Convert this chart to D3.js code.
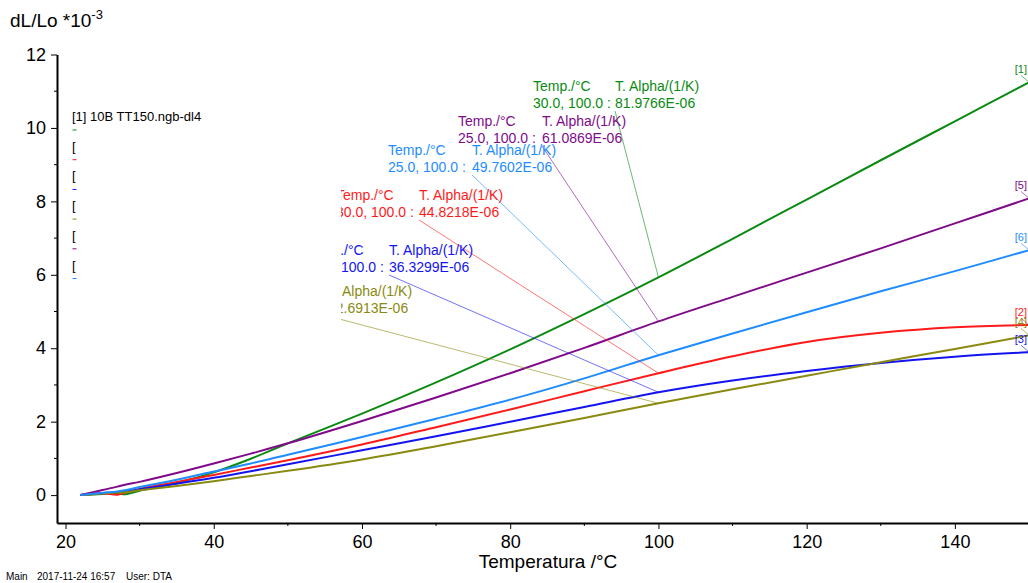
<!DOCTYPE html>
<html>
<head>
<meta charset="utf-8">
<script src="https://cdn.jsdelivr.net/npm/d3@7"></script>
<style>
  body { margin: 0; background: #fff; }
  svg { display: block; font-family: "Liberation Sans", Arial, sans-serif; }
</style>
</head>
<body>
<svg width="1028" height="583"></svg>
<script>
// Data.
var temps   = [22, 25, 27, 28, 30, 35, 40, 45, 50, 60, 70, 80, 90, 100, 110, 120, 130, 140, 150];
var green   = [0, 0.03, 0.05, 0.02, 0.12, 0.33, 0.62, 0.99, 1.41, 2.22, 3.07, 3.97, 4.93, 5.93, 6.98, 8.05, 9.12, 10.18, 11.24];
var red     = [0, 0.05, 0.01, 0.07, 0.17, 0.36, 0.55, 0.75, 0.95, 1.38, 1.85, 2.33, 2.83, 3.32, 3.78, 4.17, 4.42, 4.57, 4.63];
var blue    = [0, 0.05, 0.08, 0.1, 0.16, 0.31, 0.47, 0.65, 0.84, 1.22, 1.6, 2.0, 2.4, 2.8, 3.12, 3.38, 3.6, 3.77, 3.89];
var olive   = [0, 0.04, 0.07, 0.08, 0.13, 0.25, 0.38, 0.52, 0.66, 0.97, 1.33, 1.71, 2.1, 2.5, 2.88, 3.25, 3.62, 3.98, 4.35];
var purple  = [0, 0.14, 0.23, 0.28, 0.36, 0.6, 0.86, 1.13, 1.41, 2.02, 2.66, 3.32, 4.01, 4.73, 5.4, 6.06, 6.72, 7.4, 8.08];
var ltblue  = [0, 0.06, 0.1, 0.13, 0.22, 0.42, 0.64, 0.86, 1.1, 1.58, 2.08, 2.6, 3.18, 3.81, 4.4, 4.98, 5.55, 6.1, 6.67];

var seriesIds    = ["[1]", "[2]", "[3]", "[4]", "[5]", "[6]"];
var seriesValues = [green, red, blue, olive, purple, ltblue];
var seriesColors = ["#0b8a12", "#ff1a1a", "#1414f0", "#8a8a10", "#800a8a", "#1e8cff"];
var legendFirst  = "[1] 10B TT150.ngb-dl4";

// Annotations (in order green, purple, light blue, red, blue, olive)
var annoSeries = [0, 4, 5, 1, 2, 3];
var annoRange  = ["30.0, 100.0 :", "25.0, 100.0 :", "25.0, 100.0 :", "30.0, 100.0 :", "25.0, 100.0 :", "25.0, 100.0 :"];
var annoAlpha  = ["81.9766E-06", "61.0869E-06", "49.7602E-06", "44.8218E-06", "36.3299E-06", "32.6913E-06"];
var annoAt     = 100;

var yTicks = [0, 2, 4, 6, 8, 10, 12];
var xTicks = [20, 40, 60, 80, 100, 120, 140];

// Layout
var annoPos = [ // left x of first column, left x of second column, baseline of first line
  [533, 615, 91], [458, 542, 126], [388, 472, 155],
  [336, 419, 200], [306, 389, 255], [245, 328, 296]
];

var svg = d3.select("svg");
var x = d3.scaleLinear().domain([18.85, 150]).range([57, 1029]);
var y = d3.scaleLinear().domain([-0.76, 12]).range([523, 54.5]);

var line = d3.line()
    .x(function(d, i){ return x(temps[i]); })
    .y(function(d){ return y(d); })
    .curve(d3.curveCatmullRom.alpha(0.5));

// Curves
svg.append("g").selectAll("path")
    .data(seriesValues)
  .enter().append("path")
    .attr("d", line)
    .attr("fill", "none")
    .attr("stroke", function(d, i){ return seriesColors[i]; })
    .attr("stroke-width", 2);

// Annotation leaders and text
var atIdx = temps.indexOf(annoAt);
var annoG = svg.append("g");
annoSeries.forEach(function(s, k){
  var p = annoPos[k], c = seriesColors[s];
  annoG.append("line")
      .attr("x1", p[1]).attr("y1", p[2] + 20)
      .attr("x2", x(annoAt)).attr("y2", y(seriesValues[s][atIdx]))
      .attr("stroke", c).attr("stroke-opacity", 0.6).attr("stroke-width", 1);
  var t = annoG.append("g").attr("fill", c).style("font-size", "14px");
  t.append("text").attr("x", p[0]).attr("y", p[2]).text("Temp./°C");
  t.append("text").attr("x", p[1]).attr("y", p[2]).text("T. Alpha/(1/K)");
  t.append("text").attr("x", p[0]).attr("y", p[2] + 17).text(annoRange[k]);
  t.append("text").attr("x", p[1]).attr("y", p[2] + 17).text(annoAlpha[k]);
});

// Legend box (covers the annotations underneath it)
var legendG = svg.append("g");
legendG.append("rect")
    .attr("x", 62).attr("y", 100).attr("width", 279).attr("height", 232)
    .attr("fill", "#fff");
seriesIds.forEach(function(id, i){
  var cy = 116.5 + 29.7 * i;
  legendG.append("text")
      .attr("x", 72).attr("y", cy + 4.5)
      .style("font-size", "13px").attr("fill", "#000")
      .text(i === 0 ? legendFirst : "[");
  legendG.append("line")
      .attr("x1", 72.5).attr("x2", 76.5)
      .attr("y1", cy + 13.5).attr("y2", cy + 13.5)
      .attr("stroke", seriesColors[i]).attr("stroke-width", 1);
});

// End labels on the right edge
var last = temps.length - 1;
seriesIds.forEach(function(id, i){
  var ey = y(seriesValues[i][last]);
  svg.append("text")
      .attr("x", 1027).attr("y", ey - 9)
      .attr("text-anchor", "end")
      .style("font-size", "11px")
      .attr("fill", seriesColors[i])
      .text(id);
  svg.append("line")
      .attr("x1", 1021).attr("y1", ey - 7)
      .attr("x2", 1028).attr("y2", ey - 1)
      .attr("stroke", seriesColors[i]).attr("stroke-opacity", 0.6);
});

// Axes
var xAxisG = svg.append("g").attr("transform", "translate(0,523)");
xAxisG.call(d3.axisBottom(x).tickValues(xTicks).tickSize(6).tickPadding(6).tickSizeOuter(0));
xAxisG.selectAll(".minor")
    .data(d3.range(30, 150, 20))
  .enter().append("line")
    .attr("class", "minor")
    .attr("x1", function(d){ return x(d); }).attr("x2", function(d){ return x(d); })
    .attr("y1", 0).attr("y2", 3)
    .attr("stroke", "#000");

var yAxisG = svg.append("g").attr("transform", "translate(57,0)");
yAxisG.call(d3.axisLeft(y).tickValues(yTicks).tickSize(6).tickPadding(5).tickSizeOuter(0));
yAxisG.selectAll(".minor")
    .data(d3.range(1, 12, 2))
  .enter().append("line")
    .attr("class", "minor")
    .attr("y1", function(d){ return y(d); }).attr("y2", function(d){ return y(d); })
    .attr("x1", 0).attr("x2", -3)
    .attr("stroke", "#000");

svg.selectAll(".domain").attr("stroke", "#000").attr("stroke-width", 2);
svg.selectAll(".tick line").attr("stroke-width", 1);
svg.selectAll(".tick text")
    .style("font-size", "18px")
    .style("font-family", "'Liberation Sans', Arial, sans-serif")
    .attr("fill", "#000");

// Titles
svg.append("text")
    .attr("x", 548).attr("y", 568)
    .attr("text-anchor", "middle")
    .style("font-size", "19px")
    .text("Temperatura /°C");

var yt = svg.append("text").attr("x", 10).attr("y", 27).style("font-size", "19px");
yt.append("tspan").text("dL/Lo *10");
yt.append("tspan").attr("dy", -8).style("font-size", "13px").text("-3");

// Footer
var foot = svg.append("g").style("font-size", "10px").attr("fill", "#000");
foot.append("text").attr("x", 6).attr("y", 580).text("Main");
foot.append("text").attr("x", 37).attr("y", 580).text("2017-11-24 16:57");
foot.append("text").attr("x", 126).attr("y", 580).text("User: DTA");
</script>
</body>
</html>
